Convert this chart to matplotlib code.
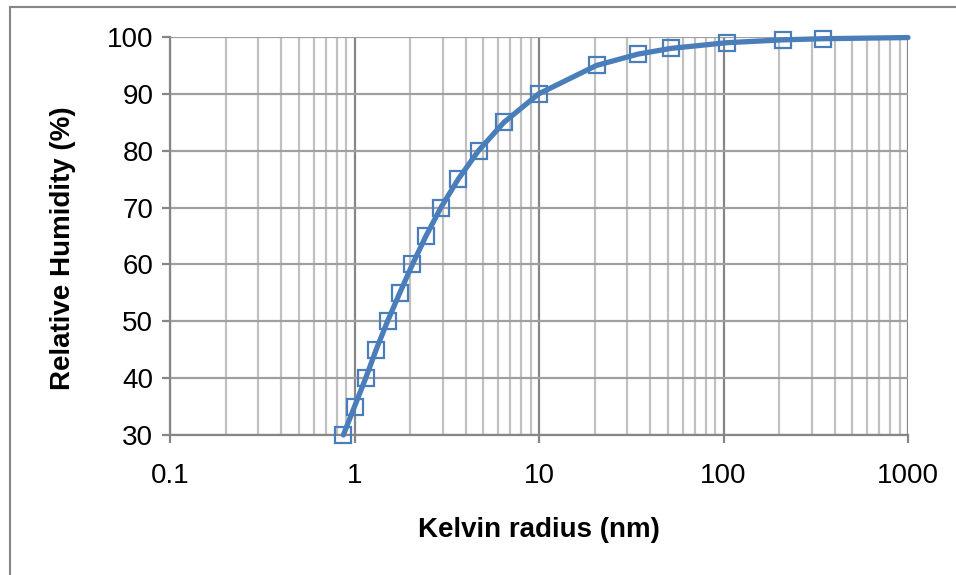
import matplotlib.pyplot as plt
from matplotlib.patches import Rectangle
from matplotlib.ticker import LogLocator, FixedLocator, NullFormatter

# data
radius_nm = [0.87, 1.0, 1.15, 1.31, 1.51, 1.76, 2.06, 2.44, 2.94, 3.65, 4.70,
             6.46, 9.96, 20.5, 34.5, 52.0, 104.5, 210.0, 345.0, 1000.0]
rel_humidity = [30, 35, 40, 45, 50, 55, 60, 65, 70, 75, 80,
                85, 90, 95, 97, 98, 99, 99.5, 99.7, 99.9]
n_markers = 19  # last point carries no marker

x_ticks = [0.1, 1, 10, 100, 1000]
x_labels = ["0.1", "1", "10", "100", "1000"]
y_ticks = [30, 40, 50, 60, 70, 80, 90, 100]

plt.rcParams['font.family'] = ['Liberation Sans', 'DejaVu Sans']

fig = plt.figure(figsize=(9.56, 5.75), dpi=100)
ax = fig.add_axes([170/956, 1-435/575, (908-170)/956, (435-37)/575])

# outer frame of the chart area
fig.patches.append(Rectangle((10/956, -0.05), 1.2, 1-7/575+0.05, transform=fig.transFigure,
                             fill=False, edgecolor='#868686', linewidth=1.5))

blue = '#4A7EBB'
ax.plot(radius_nm, rel_humidity, color=blue, linewidth=3.8, solid_capstyle='round',
        marker='s', markersize=11, markerfacecolor='none', markeredgecolor=blue,
        markeredgewidth=1.6, markevery=list(range(n_markers)), clip_on=False, zorder=3)

ax.set_xscale('log')
ax.set_xlim(0.1, 1000)
ax.set_ylim(30, 100)
ax.xaxis.set_major_locator(FixedLocator(x_ticks))
ax.set_xticklabels(x_labels)
ax.xaxis.set_minor_locator(LogLocator(base=10, subs=range(2, 10)))
ax.xaxis.set_minor_formatter(NullFormatter())
ax.set_yticks(y_ticks)

ax.grid(which='major', axis='x', color='#868686', linewidth=1.6)
ax.grid(which='minor', axis='x', color='#C0C0C0', linewidth=1.6)
ax.grid(which='major', axis='y', color='#A0A0A0', linewidth=1.6)
ax.set_axisbelow(True)

for side in ['top', 'right']:
    ax.spines[side].set_visible(False)
for side in ['left', 'bottom']:
    ax.spines[side].set_color('#868686')
    ax.spines[side].set_linewidth(1.6)

ax.tick_params(which='major', direction='out', length=6, width=1.6, color='#868686',
               labelsize=20, pad=6)
ax.tick_params(which='minor', length=0)
ax.tick_params(axis='x', pad=14)

ax.set_xlabel('Kelvin radius (nm)', fontsize=20, fontweight='bold', labelpad=20)
ax.set_ylabel('Relative Humidity (%)', fontsize=20, fontweight='bold')
ax.yaxis.set_label_coords(-0.128, 0.47)

fig.savefig('out.png', dpi=100)
